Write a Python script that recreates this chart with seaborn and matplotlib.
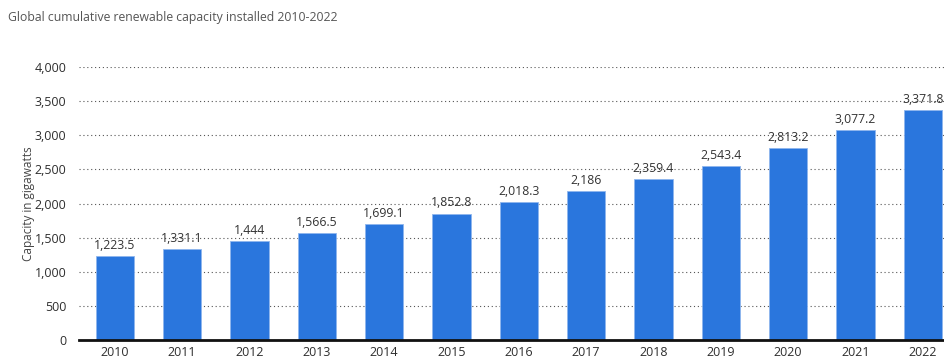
import matplotlib
matplotlib.use("Agg")
import matplotlib.pyplot as plt
import seaborn as sns
import pandas as pd

years = ["2010", "2011", "2012", "2013", "2014", "2015", "2016",
         "2017", "2018", "2019", "2020", "2021", "2022"]
capacity = [1223.5, 1331.1, 1444, 1566.5, 1699.1, 1852.8, 2018.3,
            2186, 2359.4, 2543.4, 2813.2, 3077.2, 3371.8]
value_labels = ["1,223.5", "1,331.1", "1,444", "1,566.5", "1,699.1", "1,852.8",
                "2,018.3", "2,186", "2,359.4", "2,543.4", "2,813.2",
                "3,077.2", "3,371.8"]
y_ticks = [0, 500, 1000, 1500, 2000, 2500, 3000, 3500, 4000]

sns.set_style("white")
plt.rcParams["font.family"] = ["Open Sans", "DejaVu Sans"]

df = pd.DataFrame({"year": years, "capacity": capacity})

fig = plt.figure(figsize=(9.45, 3.58), dpi=100)
ax = fig.add_axes([0.0836, 0.0503, 0.9164, 0.7625])

sns.barplot(data=df, x="year", y="capacity", color="#2a76dd", saturation=1,
            width=0.57, edgecolor="#8fb6ee", linewidth=0.6, ax=ax, zorder=3)

ax.set_ylim(0, 4000)
ax.set_xlim(-0.53, 12.33)
ax.set_yticks(y_ticks)
ax.set_yticklabels([f"{v:,}" for v in y_ticks])
ax.yaxis.grid(True, linestyle=(0, (1, 2.5)), color="#555555", linewidth=0.8, zorder=0)
ax.xaxis.grid(False)

for s in ["top", "right", "left"]:
    ax.spines[s].set_visible(False)
ax.spines["bottom"].set_color("#111111")
ax.spines["bottom"].set_linewidth(2)
ax.spines["bottom"].set_zorder(5)

ax.tick_params(axis="both", length=0, labelsize=9, labelcolor="#2e2e2e")
ax.tick_params(axis="y", pad=9)
ax.tick_params(axis="x", pad=4)

ax.set_xlabel("")
ax.set_ylabel("Capacity in gigawatts", fontsize=8.5, color="#444444", labelpad=0)

for i, (v, lab) in enumerate(zip(capacity, value_labels)):
    ax.annotate(lab, (i, v), xytext=(0, 3), textcoords="offset points",
                ha="center", va="bottom", fontsize=8.8, color="#333333",
                annotation_clip=False, zorder=6)

fig.text(0.0085, 0.95, "Global cumulative renewable capacity installed 2010-2022",
         fontsize=8.8, color="#555555", ha="left", va="center")

fig.savefig("out.png", dpi=100)
